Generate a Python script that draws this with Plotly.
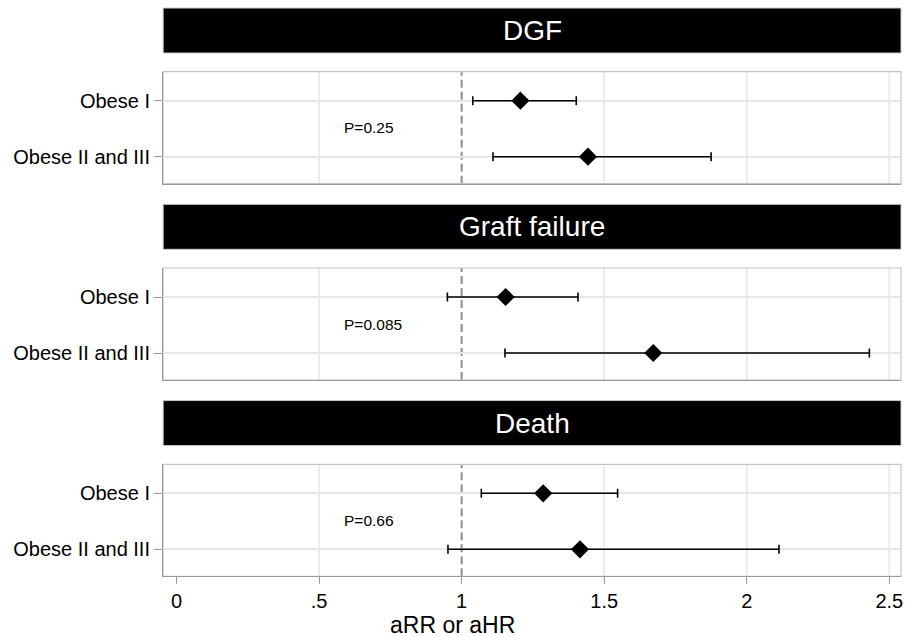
import plotly.graph_objects as go

# ---------------- data ----------------
outcomes = ["DGF", "Graft failure", "Death"]
groups = ["Obese I", "Obese II and III"]
estimate = [[1.206, 1.443], [1.154, 1.672], [1.286, 1.415]]
ci_low = [[1.039, 1.110], [0.950, 1.152], [1.069, 0.952]]
ci_high = [[1.402, 1.875], [1.408, 2.430], [1.547, 2.113]]
p_text = ["P=0.25", "P=0.085", "P=0.66"]
x_tickvals = [0, 0.5, 1, 1.5, 2, 2.5]
x_ticktext = ["0", ".5", "1", "1.5", "2", "2.5"]
grid_x = [0.5, 1.5, 2, 2.5]
ref_value = 1
x_title = "aRR or aHR"

# ---------------- layout geometry (pixels) ----------------
W, H = 906, 637
left_px, right_px = 163.5, 903
panel_top0, pitch, panel_h = 71.7, 196.3, 112
hdr_off_top, hdr_off_bot = 63.7, 18.7
FONT = "Liberation Sans, Arial, Helvetica, sans-serif"

def py(px):
    return 1 - px / H

fig = go.Figure()
shapes = []
annotations = []
layout_axes = {}

for i, name in enumerate(outcomes):
    k = "" if i == 0 else str(i + 1)
    xa, ya = "x" + k, "y" + k
    top = panel_top0 + i * pitch
    bot = top + panel_h
    est = estimate[i]
    plus = [h - e for h, e in zip(ci_high[i], est)]
    minus = [e - l for e, l in zip(est, ci_low[i])]

    fig.add_trace(go.Scatter(
        x=est, y=groups, xaxis=xa, yaxis=ya, mode="markers",
        marker=dict(symbol="diamond", size=14, color="black"),
        error_x=dict(type="data", symmetric=False, array=plus, arrayminus=minus,
                     color="black", thickness=1.6, width=4.5),
        showlegend=False, hoverinfo="x+y"))

    last = i == len(outcomes) - 1
    layout_axes["xaxis" + k] = dict(
        domain=[left_px / W, right_px / W], range=[-0.047, 2.541],
        anchor=ya, showgrid=False, zeroline=False,
        showline=True, linecolor="#999999", linewidth=1.3,
        tickvals=x_tickvals, ticktext=x_ticktext,
        ticks="outside" if last else "", ticklen=7, tickcolor="#999999",
        showticklabels=last, tickfont=dict(family=FONT, size=20, color="black"),
    )
    layout_axes["yaxis" + k] = dict(
        domain=[py(bot), py(top)], anchor=xa, type="category",
        categoryorder="array", categoryarray=groups[::-1],
        range=[-0.482, 1.518], showgrid=True, gridcolor="#e6e6e6", gridwidth=1.5,
        zeroline=False, showline=True, linecolor="#999999", linewidth=1.3,
        ticks="outside", ticklen=8, tickcolor="#999999",
        tickfont=dict(family=FONT, size=20, color="black"),
    )

    for gx in grid_x:
        shapes.append(dict(type="line", xref=xa, yref=ya + " domain", x0=gx, x1=gx,
                           y0=0, y1=1, line=dict(color="#e6e6e6", width=1.5), layer="below"))
    shapes.append(dict(type="line", xref=xa, yref=ya + " domain", x0=ref_value, x1=ref_value,
                       y0=0, y1=1, line=dict(color="#8f8f8f", width=2, dash="8px,4px"),
                       layer="below"))
    shapes.append(dict(type="rect", xref="paper", yref="paper",
                       x0=left_px / W, x1=right_px / W, y0=py(bot), y1=py(top),
                       line=dict(color="#c4c4c4", width=1.2), layer="below"))
    h_top = top - hdr_off_top
    h_bot = top - hdr_off_bot
    shapes.append(dict(type="rect", xref="paper", yref="paper",
                       x0=left_px / W, x1=right_px / W, y0=py(h_bot), y1=py(h_top),
                       fillcolor="black", line=dict(color="#cccccc", width=1)))
    annotations.append(dict(text=name, xref="paper", yref="paper",
                            x=(left_px + right_px) / 2 / W, y=py((h_top + h_bot) / 2),
                            showarrow=False, xanchor="center", yanchor="middle",
                            font=dict(family=FONT, size=28, color="white")))
    annotations.append(dict(text=p_text[i], xref=xa, yref=ya + " domain",
                            x=0.58, y=0.5, showarrow=False, xanchor="left",
                            yanchor="middle",
                            font=dict(family=FONT, size=15.5, color="black")))

annotations.append(dict(text=x_title, xref="paper", yref="paper", x=453 / W, y=py(625),
                        showarrow=False, xanchor="center", yanchor="middle",
                        font=dict(family=FONT, size=23, color="black")))

fig.update_layout(
    width=W, height=H, margin=dict(l=0, r=0, t=0, b=0),
    paper_bgcolor="white", plot_bgcolor="white",
    shapes=shapes, annotations=annotations, **layout_axes)

fig.write_html("out.html", config={"displayModeBar": False},
               post_script="document.body.style.margin='0';document.body.style.overflow='hidden';")
